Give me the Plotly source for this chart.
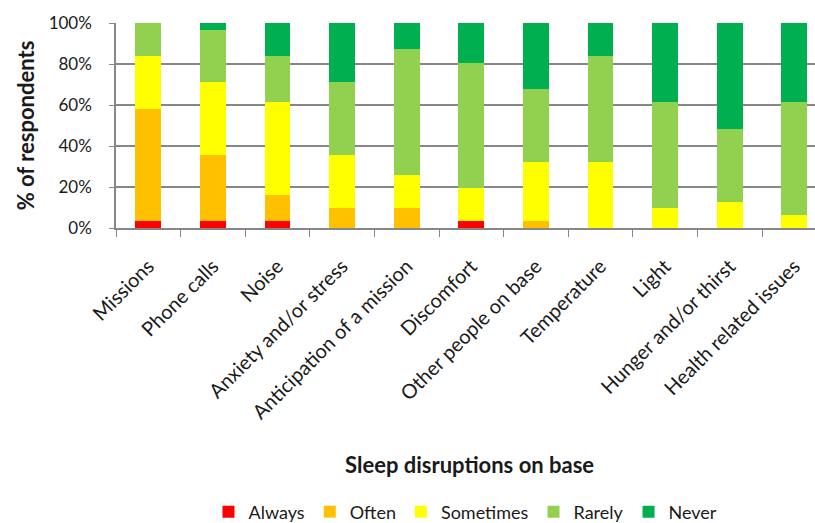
import plotly.graph_objects as go

# Sleep disruption categories (x axis)
categories = [
    "Missions", "Phone calls", "Noise", "Anxiety and/or stress",
    "Anticipation of a mission", "Discomfort", "Other people on base",
    "Temperature", "Light", "Hunger and/or thirst", "Health related issues",
]

# Share of respondents (%) per answer frequency
always = [3.2, 3.2, 3.2, 0, 0, 3.2, 0, 0, 0, 0, 0]
often = [54.8, 32.3, 12.9, 9.7, 9.7, 0, 3.2, 0, 0, 0, 0]
sometimes = [25.8, 35.5, 45.2, 25.8, 16.1, 16.1, 29.0, 32.3, 9.7, 12.9, 6.5]
rarely = [16.1, 25.8, 22.6, 35.5, 61.3, 61.3, 35.5, 51.6, 51.6, 35.5, 54.8]
never = [0, 3.2, 16.1, 29.0, 12.9, 19.4, 32.3, 16.1, 38.7, 51.6, 38.7]

y_ticks = [0, 20, 40, 60, 80, 100]
y_tick_labels = ["0%", "20%", "40%", "60%", "80%", "100%"]

series = [
    ("Always", always, "#FF0000"),
    ("Often", often, "#FFC000"),
    ("Sometimes", sometimes, "#FFFF00"),
    ("Rarely", rarely, "#92D050"),
    ("Never", never, "#00B050"),
]

FONT = "Lato, 'Open Sans', sans-serif"
TEXT = "#1a1a1a"
GRID = "#878787"

fig = go.Figure()
for name, vals, color in series:
    fig.add_trace(go.Bar(
        x=categories, y=vals, name=name,
        marker=dict(color=color, line=dict(width=0)),
    ))

fig.update_layout(
    barmode="stack",
    bargap=0.6,
    width=815, height=523,
    margin=dict(l=116, r=0, t=23, b=295, autoexpand=False),
    plot_bgcolor="white",
    paper_bgcolor="white",
    font=dict(family=FONT, color=TEXT, size=17),
    showlegend=True,
    legend=dict(
        orientation="h",
        x=0.5, xanchor="center",
        y=-1.385, yanchor="middle",
        font=dict(size=18, family=FONT, color=TEXT),
        traceorder="normal",
        itemwidth=30,
    ),
    xaxis=dict(
        type="category",
        range=[-0.5, 10.32],
        automargin=False,
        tickangle=-45,
        tickson="boundaries",
        ticks="outside",
        ticklen=7,
        tickcolor=GRID,
        ticklabelstandoff=17,
        showline=True,
        linecolor=GRID,
        linewidth=1.5,
        showgrid=False,
        tickfont=dict(size=20, family=FONT, color=TEXT),
    ),
    yaxis=dict(
        range=[0, 100],
        automargin=False,
        tickvals=y_ticks,
        ticktext=y_tick_labels,
        ticks="outside",
        ticklen=5,
        tickcolor=GRID,
        ticklabelstandoff=14,
        showline=True,
        linecolor=GRID,
        linewidth=1.5,
        showgrid=True,
        gridcolor=GRID,
        gridwidth=1.5,
        zeroline=False,
        tickfont=dict(size=17, family=FONT, color=TEXT),
        title=dict(
            text="<b>% of respondents</b>",
            font=dict(size=22, family=FONT, color=TEXT),
            standoff=8,
        ),
    ),
    annotations=[
        dict(
            text="<b>Sleep disruptions on base</b>",
            xref="paper", yref="paper",
            x=0.506, y=-1.156,
            xanchor="center", yanchor="middle",
            showarrow=False,
            font=dict(size=22, family=FONT, color=TEXT),
        )
    ],
)

fig.write_html("out.html")
